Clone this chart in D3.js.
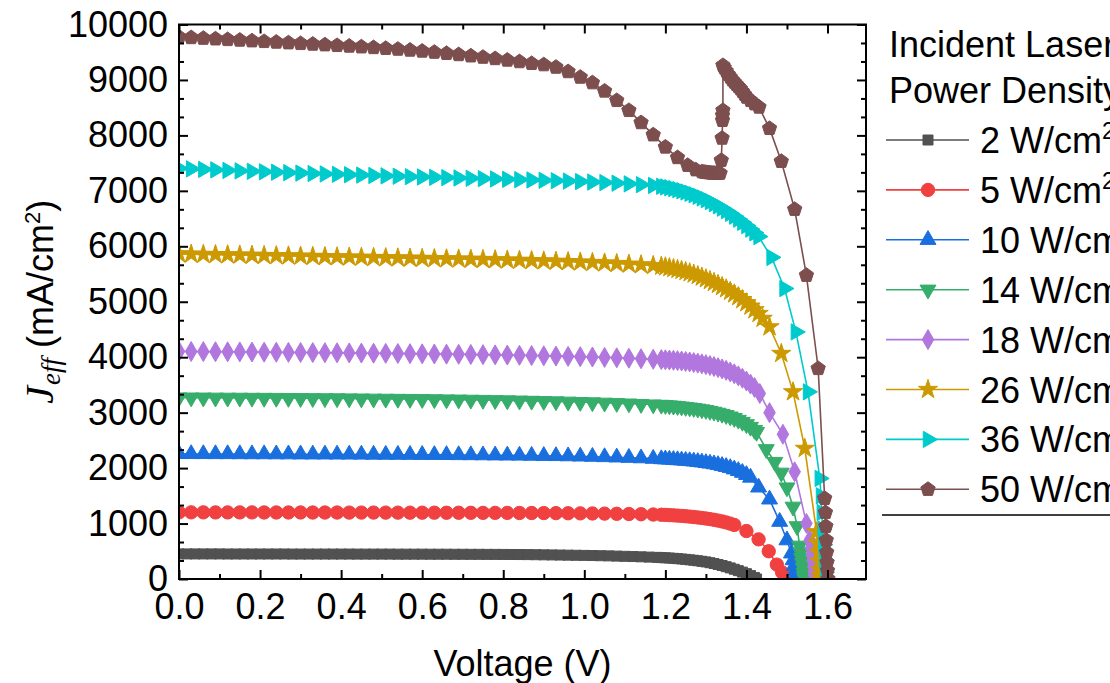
<!DOCTYPE html>
<html>
<head>
<meta charset="utf-8">
<script src="https://cdn.jsdelivr.net/npm/d3@7"></script>
<style>
  body { margin: 0; background: #fff; }
  svg { display: block; font-family: "Liberation Sans", Arial, sans-serif; }
</style>
</head>
<body>
<script>

// Incident laser power densities (W/cm2), one J-V curve each
var powers = [2, 5, 10, 14, 18, 26, 36, 50];

// Origin-style palette
var colors = ['#515151', '#F14040', '#1A6FDF', '#37AD6B', '#B177DE', '#CC9900', '#00CBCC', '#7D4E4E'];

// voltage steps of the flat part (V); the 2 W/cm2 sweep is finer
var voltage2 = [0.00, 0.02, 0.04, 0.06, 0.08, 0.10, 0.12, 0.14, 0.16, 0.18,
                0.20, 0.22, 0.24, 0.26, 0.28, 0.30, 0.32, 0.34, 0.36, 0.38,
                0.40, 0.42, 0.44, 0.46, 0.48, 0.50, 0.52, 0.54, 0.56, 0.58,
                0.60, 0.62, 0.64, 0.66, 0.68, 0.70, 0.72, 0.74, 0.76, 0.78,
                0.80, 0.82, 0.84, 0.86, 0.88, 0.90, 0.92, 0.94, 0.96, 0.98,
                1.00, 1.02, 1.04, 1.06, 1.08, 1.10, 1.12, 1.14, 1.16, 1.18];
var voltage = [0.00, 0.03, 0.06, 0.09, 0.12, 0.15, 0.18, 0.21, 0.24, 0.27,
               0.30, 0.33, 0.36, 0.39, 0.42, 0.45, 0.48, 0.51, 0.54, 0.57,
               0.60, 0.63, 0.66, 0.69, 0.72, 0.75, 0.78, 0.81, 0.84, 0.87,
               0.90, 0.93, 0.96, 0.99, 1.02, 1.05, 1.08, 1.11, 1.14, 1.17];

// J_eff (mA/cm2) on the voltage steps above
var j2  = [452, 452, 452, 452, 452, 452, 451, 451, 451, 451,
           451, 451, 451, 451, 450, 450, 450, 450, 450, 450,
           450, 450, 449, 449, 449, 449, 449, 448, 448, 448,
           448, 447, 447, 447, 446, 446, 445, 445, 444, 444,
           443, 442, 441, 440, 438, 436, 434, 432, 430, 428,
           426, 423, 420, 417, 413, 409, 405, 400, 395, 390];
var j5  = [1202, 1202, 1202, 1201, 1201, 1201, 1201, 1200, 1200, 1200,
           1200, 1199, 1199, 1199, 1198, 1198, 1198, 1197, 1197, 1196,
           1196, 1196, 1195, 1195, 1194, 1193, 1193, 1192, 1191, 1190,
           1189, 1188, 1186, 1184, 1182, 1179, 1176, 1172, 1168, 1163];
var j10 = [2256, 2255, 2255, 2254, 2254, 2253, 2252, 2252, 2251, 2250,
           2249, 2248, 2248, 2247, 2246, 2245, 2244, 2243, 2242, 2241,
           2240, 2239, 2238, 2236, 2235, 2233, 2231, 2229, 2227, 2225,
           2222, 2219, 2215, 2211, 2206, 2200, 2194, 2187, 2179, 2170];
var j14 = [3272, 3271, 3270, 3269, 3268, 3267, 3266, 3265, 3264, 3263,
           3261, 3260, 3258, 3257, 3255, 3253, 3251, 3249, 3247, 3245,
           3243, 3240, 3237, 3234, 3231, 3228, 3224, 3220, 3216, 3212,
           3207, 3202, 3197, 3191, 3185, 3178, 3171, 3163, 3155, 3146];
var j18 = [4105, 4103, 4101, 4099, 4097, 4095, 4093, 4091, 4089, 4087,
           4085, 4083, 4081, 4079, 4077, 4074, 4072, 4069, 4067, 4064,
           4061, 4058, 4055, 4052, 4049, 4046, 4042, 4038, 4034, 4030,
           4025, 4020, 4015, 4009, 4003, 3996, 3989, 3981, 3972, 3963];
var j26 = [5862, 5858, 5854, 5850, 5846, 5842, 5838, 5834, 5830, 5826,
           5822, 5818, 5814, 5810, 5806, 5802, 5798, 5794, 5790, 5786,
           5782, 5778, 5774, 5770, 5766, 5762, 5757, 5752, 5747, 5742,
           5736, 5730, 5723, 5716, 5708, 5699, 5689, 5678, 5666, 5653];
var j36 = [7405, 7396, 7387, 7378, 7369, 7360, 7352, 7344, 7336, 7328,
           7320, 7312, 7305, 7298, 7291, 7284, 7277, 7270, 7263, 7256,
           7250, 7244, 7238, 7232, 7226, 7220, 7214, 7208, 7202, 7196,
           7190, 7183, 7176, 7168, 7159, 7149, 7138, 7126, 7112, 7097];
var j50 = [9775, 9764, 9752, 9741, 9729, 9718, 9706, 9694, 9682, 9670,
           9658, 9646, 9634, 9622, 9610, 9597, 9584, 9570, 9555, 9538,
           9520, 9500, 9479, 9457, 9434, 9410, 9385, 9358, 9330, 9298,
           9275, 9230, 9150, 9050, 8950, 8800, 8630, 8450, 8230, 8010];

// knee and fall-off, [V, J_eff] (finer voltage steps)
var tail2 = [[1.19, 386], [1.20, 382], [1.21, 378], [1.22, 373], [1.23, 367], [1.24, 361], [1.25, 354],
             [1.26, 346], [1.27, 338], [1.28, 329], [1.29, 319], [1.30, 308], [1.31, 294], [1.32, 279],
             [1.33, 262], [1.34, 243], [1.35, 222], [1.36, 200], [1.37, 176], [1.38, 150], [1.39, 124],
             [1.40, 96], [1.41, 62], [1.42, 26], [1.425, 0]];
var tail5 = [[1.19, 1159], [1.20, 1156], [1.21, 1152], [1.22, 1148], [1.23, 1143], [1.24, 1138], [1.25, 1132],
             [1.26, 1125], [1.27, 1118], [1.28, 1110], [1.29, 1101], [1.30, 1091], [1.31, 1080], [1.32, 1068],
             [1.33, 1054], [1.34, 1038], [1.35, 1020], [1.36, 999], [1.37, 975], [1.40, 865], [1.43, 715],
             [1.455, 500], [1.475, 260], [1.488, 120], [1.494, 60], [1.498, 20], [1.50, 0]];
var tail10 = [[1.19, 2163], [1.20, 2159], [1.21, 2155], [1.22, 2150], [1.23, 2145], [1.24, 2140], [1.25, 2134],
              [1.26, 2128], [1.27, 2121], [1.28, 2113], [1.29, 2104], [1.30, 2094], [1.31, 2083], [1.32, 2071],
              [1.33, 2057], [1.34, 2041], [1.35, 2023], [1.36, 2002], [1.37, 1978], [1.38, 1950], [1.39, 1917],
              [1.40, 1878], [1.41, 1830], [1.43, 1652], [1.457, 1436], [1.482, 1033], [1.50, 700], [1.511, 463],
              [1.515, 340], [1.518, 240], [1.521, 150], [1.523, 80], [1.525, 30], [1.526, 0]];
var tail14 = [[1.19, 3140], [1.20, 3135], [1.21, 3129], [1.22, 3123], [1.23, 3116], [1.24, 3108], [1.25, 3100],
              [1.26, 3091], [1.27, 3081], [1.28, 3070], [1.29, 3058], [1.30, 3045], [1.31, 3030], [1.32, 3014],
              [1.33, 2996], [1.34, 2976], [1.35, 2954], [1.36, 2929], [1.37, 2901], [1.38, 2869], [1.39, 2832],
              [1.40, 2790], [1.41, 2742], [1.42, 2686], [1.425, 2650], [1.449, 2340], [1.47, 2110], [1.486, 1916],
              [1.50, 1650], [1.515, 1303], [1.525, 950], [1.531, 600], [1.534, 480], [1.536, 380], [1.538, 290],
              [1.540, 200], [1.542, 110], [1.543, 50], [1.544, 0]];
var tail18 = [[1.19, 3957], [1.20, 3953], [1.21, 3949], [1.22, 3944], [1.23, 3938], [1.24, 3931], [1.25, 3923],
              [1.26, 3914], [1.27, 3904], [1.28, 3893], [1.29, 3880], [1.30, 3866], [1.31, 3850], [1.32, 3832],
              [1.33, 3812], [1.34, 3789], [1.35, 3763], [1.36, 3734], [1.37, 3701], [1.38, 3663], [1.39, 3620],
              [1.40, 3570], [1.41, 3515], [1.42, 3455], [1.433, 3345], [1.457, 3000], [1.49, 2610], [1.519, 1934],
              [1.548, 1003], [1.556, 700], [1.559, 560], [1.561, 440], [1.563, 330], [1.565, 220], [1.566, 140],
              [1.567, 70], [1.568, 0]];
var tail26 = [[1.19, 5640], [1.20, 5628], [1.21, 5614], [1.22, 5598], [1.23, 5582], [1.24, 5565], [1.25, 5545],
              [1.26, 5522], [1.27, 5498], [1.28, 5472], [1.29, 5444], [1.30, 5414], [1.31, 5382], [1.32, 5348],
              [1.33, 5312], [1.34, 5273], [1.35, 5232], [1.36, 5188], [1.37, 5141], [1.38, 5091], [1.39, 5038],
              [1.40, 4981], [1.41, 4920], [1.42, 4855], [1.43, 4788], [1.44, 4700], [1.457, 4546], [1.486, 4067],
              [1.515, 3375], [1.544, 2355], [1.573, 852], [1.576, 650], [1.578, 480], [1.580, 320], [1.582, 160],
              [1.583, 70], [1.584, 0]];
var tail36 = [[1.19, 7082], [1.20, 7070], [1.21, 7056], [1.22, 7040], [1.23, 7022], [1.24, 7002], [1.25, 6980],
              [1.26, 6956], [1.27, 6930], [1.28, 6902], [1.29, 6872], [1.30, 6840], [1.31, 6806], [1.32, 6769],
              [1.33, 6730], [1.34, 6688], [1.35, 6643], [1.36, 6595], [1.37, 6544], [1.38, 6490], [1.39, 6433],
              [1.40, 6373], [1.41, 6310], [1.42, 6244], [1.43, 6175], [1.462, 5800], [1.494, 5238], [1.522, 4456],
              [1.552, 3375], [1.581, 1814], [1.584, 1500], [1.586, 1200], [1.588, 900], [1.590, 620], [1.592, 350],
              [1.594, 120], [1.595, 0]];
var tail50 = [[1.20, 7790], [1.23, 7600], [1.255, 7460], [1.275, 7380], [1.29, 7345], [1.295, 7338], [1.30, 7333],
              [1.305, 7328], [1.31, 7324], [1.315, 7321], [1.32, 7319], [1.325, 7317], [1.33, 7316], [1.335, 7318],
              [1.338, 7550], [1.340, 7950], [1.341, 8270], [1.341, 8360], [1.342, 8450], [1.342, 9261],
              [1.345, 9220], [1.35, 9160], [1.355, 9100], [1.36, 9051], [1.365, 9000], [1.37, 8960], [1.375, 8920],
              [1.38, 8880], [1.385, 8840], [1.39, 8790], [1.395, 8740], [1.40, 8690], [1.41, 8630], [1.42, 8570],
              [1.431, 8510], [1.457, 8126], [1.486, 7532], [1.519, 6667], [1.548, 5477], [1.577, 3796],
              [1.593, 1454], [1.595, 1200], [1.596, 950], [1.597, 700], [1.598, 480], [1.599, 300], [1.600, 150],
              [1.601, 0]];

var xMajor = [0, 0.2, 0.4, 0.6, 0.8, 1.0, 1.2, 1.4, 1.6];
var xMinor = [0.1, 0.3, 0.5, 0.7, 0.9, 1.1, 1.3, 1.5];
var yMajor = [0, 1000, 2000, 3000, 4000, 5000, 6000, 7000, 8000, 9000, 10000];

(function() {

  var grids = [voltage2, voltage, voltage, voltage, voltage, voltage, voltage, voltage];
  var flats = [j2, j5, j10, j14, j18, j26, j36, j50];
  var tails = [tail2, tail5, tail10, tail14, tail18, tail26, tail36, tail50];

  var series = powers.map(function(p, k) {
    var pts = grids[k].map(function(v, i) { return [v, flats[k][i]]; });
    return { power: p, color: colors[k], points: pts.concat(tails[k]) };
  });

  // y minor ticks: two between majors
  var yMinor = [];
  for (var m = 0; m < 10; m++) {
    yMinor.push(m * 1000 + 1000 / 3, m * 1000 + 2000 / 3);
  }

  var W = 1110, H = 683;
  // plot box (don't call these top/left: window.top is read-only)
  var pL = 179, pR = 866, pT = 24.5, pB = 579;

  var svg = d3.select('body').append('svg').attr('width', W).attr('height', H);

  var x = d3.scaleLinear().domain([0, 1.695]).range([pL, pR]);
  var y = d3.scaleLinear().domain([0, 10000]).range([pB, pT]);

  // marker shapes
  var symbolPentagon = {
    draw: function(ctx, size) {
      var r = Math.sqrt(size / 2.3776);
      for (var i = 0; i < 5; i++) {
        var a = -Math.PI / 2 + i * 2 * Math.PI / 5;
        if (i === 0) ctx.moveTo(r * Math.cos(a), r * Math.sin(a));
        else ctx.lineTo(r * Math.cos(a), r * Math.sin(a));
      }
      ctx.closePath();
    }
  };
  var shapes = [
    { type: d3.symbolSquare, size: 100, rot: 0 },
    { type: d3.symbolCircle, size: 140, rot: 0 },
    { type: d3.symbolTriangle, size: 110, rot: 0 },
    { type: d3.symbolTriangle, size: 110, rot: 180 },
    { type: d3.symbolDiamond, size: 115, rot: 0 },
    { type: d3.symbolStar, size: 115, rot: 0 },
    { type: d3.symbolTriangle, size: 115, rot: 90 },
    { type: symbolPentagon, size: 135, rot: 0 }
  ];

  svg.append('clipPath').attr('id', 'plotclip')
    .append('rect').attr('x', pL).attr('y', pT).attr('width', pR - pL).attr('height', pB - pT);

  var line = d3.line().x(function(d) { return x(d[0]); }).y(function(d) { return y(d[1]); });

  var plot = svg.append('g').attr('clip-path', 'url(#plotclip)');

  series.forEach(function(s, k) {
    var g = plot.append('g');
    g.append('path')
      .attr('d', line(s.points))
      .attr('fill', 'none')
      .attr('stroke', s.color)
      .attr('stroke-width', 1.6);
    var sym = d3.symbol().type(shapes[k].type).size(shapes[k].size);
    g.selectAll('path.mk')
      .data(s.points)
      .enter()
      .append('path')
      .attr('class', 'mk')
      .attr('d', sym)
      .attr('fill', s.color)
      .attr('stroke', s.color)
      .attr('stroke-width', 1)
      .attr('transform', function(d) {
        return 'translate(' + x(d[0]) + ',' + y(d[1]) + ') rotate(' + shapes[k].rot + ')';
      });
  });

  // axes, all ticks pointing inwards
  function styleAxis(g) {
    g.select('.domain').remove();
    g.selectAll('.tick line').attr('stroke', '#000').attr('stroke-width', 2);
    g.selectAll('text').attr('font-size', 36).attr('fill', '#000')
      .attr('font-family', '"Liberation Sans", Arial, sans-serif');
  }

  svg.append('g').attr('transform', 'translate(0,' + pB + ')')
    .call(d3.axisBottom(x).tickValues(xMajor).tickSizeInner(-9).tickSizeOuter(0).tickPadding(14).tickFormat(d3.format('.1f')))
    .call(styleAxis);
  svg.append('g').attr('transform', 'translate(0,' + pB + ')')
    .call(d3.axisBottom(x).tickValues(xMinor).tickSizeInner(-5).tickSizeOuter(0).tickFormat(''))
    .call(styleAxis);
  svg.append('g').attr('transform', 'translate(0,' + pT + ')')
    .call(d3.axisTop(x).tickValues(xMajor).tickSizeInner(-9).tickSizeOuter(0).tickFormat(''))
    .call(styleAxis);
  svg.append('g').attr('transform', 'translate(0,' + pT + ')')
    .call(d3.axisTop(x).tickValues(xMinor).tickSizeInner(-5).tickSizeOuter(0).tickFormat(''))
    .call(styleAxis);

  svg.append('g').attr('transform', 'translate(' + pL + ',0)')
    .call(d3.axisLeft(y).tickValues(yMajor).tickSizeInner(-9).tickSizeOuter(0).tickPadding(11).tickFormat(d3.format('d')))
    .call(styleAxis);
  svg.append('g').attr('transform', 'translate(' + pL + ',0)')
    .call(d3.axisLeft(y).tickValues(yMinor).tickSizeInner(-5).tickSizeOuter(0).tickFormat(''))
    .call(styleAxis);
  svg.append('g').attr('transform', 'translate(' + pR + ',0)')
    .call(d3.axisRight(y).tickValues(yMajor).tickSizeInner(-9).tickSizeOuter(0).tickFormat(''))
    .call(styleAxis);
  svg.append('g').attr('transform', 'translate(' + pR + ',0)')
    .call(d3.axisRight(y).tickValues(yMinor).tickSizeInner(-5).tickSizeOuter(0).tickFormat(''))
    .call(styleAxis);

  // frame
  svg.append('rect')
    .attr('x', pL).attr('y', pT)
    .attr('width', pR - pL).attr('height', pB - pT)
    .attr('fill', 'none').attr('stroke', '#000').attr('stroke-width', 2);

  // axis titles
  svg.append('text')
    .attr('x', (pL + pR) / 2).attr('y', 676)
    .attr('text-anchor', 'middle').attr('font-size', 36)
    .text('Voltage (V)');

  var yt = svg.append('text')
    .attr('transform', 'translate(53,' + ((pT + pB) / 2) + ') rotate(-90)')
    .attr('text-anchor', 'middle').attr('font-size', 36);
  yt.append('tspan').attr('font-family', '"Liberation Serif", serif').attr('font-style', 'italic')
    .attr('font-size', 40).text('J');
  yt.append('tspan').attr('font-family', '"Liberation Serif", serif').attr('font-style', 'italic')
    .attr('font-size', 27).attr('dy', 7).attr('dx', 1).text('eff');
  yt.append('tspan').attr('dy', -7).text(' (mA/cm');
  yt.append('tspan').attr('font-size', 22).attr('dy', -13).text('2');
  yt.append('tspan').attr('dy', 13).text(')');

  // legend
  var legend = svg.append('g');
  legend.append('text').attr('x', 889).attr('y', 57).attr('font-size', 36).text('Incident Laser');
  legend.append('text').attr('x', 889).attr('y', 103).attr('font-size', 36).text('Power Density');

  series.forEach(function(s, k) {
    var ly = 140 + k * 49.9;
    var row = legend.append('g');
    row.append('line').attr('x1', 886).attr('x2', 969).attr('y1', ly).attr('y2', ly)
      .attr('stroke', s.color).attr('stroke-width', 1.6);
    row.append('path')
      .attr('d', d3.symbol().type(shapes[k].type).size(shapes[k].size)())
      .attr('fill', s.color)
      .attr('stroke', s.color)
      .attr('stroke-width', 1)
      .attr('transform', 'translate(928,' + ly + ') rotate(' + shapes[k].rot + ')');
    var t = row.append('text').attr('x', 980).attr('y', ly + 13).attr('font-size', 36);
    t.append('tspan').text(s.power + ' W/cm');
    t.append('tspan').attr('font-size', 23).attr('dy', -14).text('2');
  });

  legend.append('line').attr('x1', 882).attr('x2', W).attr('y1', 515).attr('y2', 515)
    .attr('stroke', '#000').attr('stroke-width', 1.5);

})();

</script>
</body>
</html>
